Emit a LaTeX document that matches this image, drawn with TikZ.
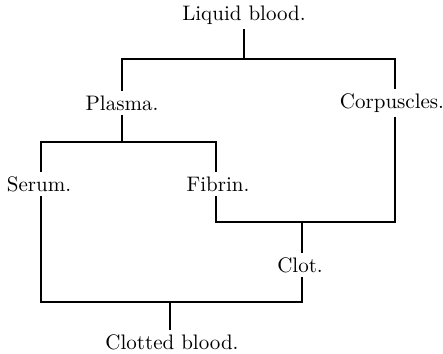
\documentclass[tikz,border=0pt]{standalone}
\usepackage{tikz}

\begin{document}
\begin{tikzpicture}[x=0.5pt, y=-0.5pt, line width=0.55pt,
    lbl/.style={font=\fontsize{10.5pt}{12pt}\selectfont, fill=white, inner sep=2pt}]

    \useasboundingbox (0,0) rectangle (443,353);

    % Define column positions
    \def\colSerum{41}
    \def\colPlasma{122}
    \def\colClotted{170}
    \def\colFibrin{216}
    \def\colLiquid{244}
    \def\colClot{302}
    \def\colCorp{395}

    % =========================================================================
    % Labels
    % =========================================================================
    \node[lbl] (liquid) at (\colLiquid, 15) {Liquid blood.};
    \node[lbl] (plasma) at (\colPlasma, 103) {Plasma.};
    \node[lbl] (corp) at (\colCorp-3, 103) {Corpuscles.};
    \node[lbl] (serum) at (\colSerum-2, 184) {Serum.};
    \node[lbl] (fibrin) at (\colFibrin+2, 184) {Fibrin.};
    \node[lbl] (clot) at (\colClot-2, 265) {Clot.};
    \node[lbl] (clotted) at (\colClotted+2, 342) {Clotted blood.};

    % Junction points
    \coordinate (top) at (\colLiquid, 59);
    \coordinate (split) at (\colPlasma, 142);
    \coordinate (join) at (\colClot, 222);
    \coordinate (low) at (\colClotted, 302);

    % =========================================================================
    % Connectors
    % =========================================================================
    \draw (liquid) -- (top);
    \draw (plasma.north -| \colPlasma, 0) |- (top) -| (corp.north -| \colCorp, 0);
    \draw (plasma.south -| \colPlasma, 0) -- (split);
    \draw (serum.north -| \colSerum, 0) |- (split) -| (fibrin.north -| \colFibrin, 0);

    \draw (corp.south -| \colCorp, 0) |- (join) -| (fibrin.south -| \colFibrin, 0);
    \draw (clot.north -| \colClot, 0) -- (join);

    \draw (serum.south -| \colSerum, 0) |- (low) -| (clot.south -| \colClot, 0);
    \draw (low) -- (clotted.north -| low);

\end{tikzpicture}
\end{document}
